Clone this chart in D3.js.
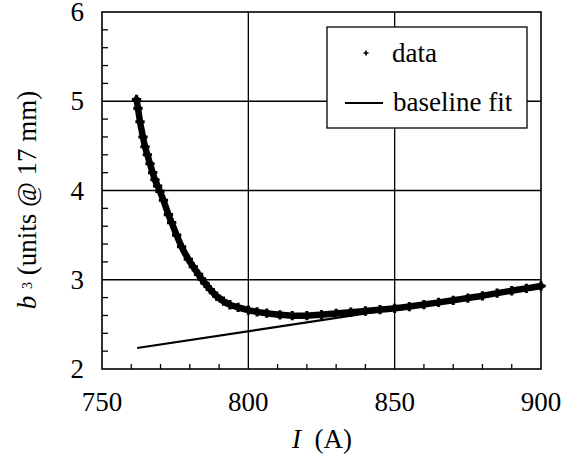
<!DOCTYPE html>
<html>
<head>
<meta charset="utf-8">
<script src="https://cdn.jsdelivr.net/npm/d3@7"></script>
</head>
<body style="margin:0">
<svg id="chart" width="577" height="460"></svg>
<script>
// measured current (A)
const currentI = [761.8, 762.3, 763, 764, 764.7, 765.5, 766.4, 767.3, 768.1, 769, 769.8,
  771, 772.7, 773.8, 775.5, 777.2, 779.5, 781.2, 783, 784, 785.2, 787, 789.2, 791.5,
  793.7, 796.5, 800, 803, 806.3, 810.8, 815, 820, 825, 830, 835, 840, 845, 850, 855,
  860, 865, 870, 875, 880, 885, 890, 895, 900]
// b3 values
const b3Values = [5.02, 4.92, 4.77, 4.60, 4.49, 4.40, 4.30, 4.20, 4.12, 4.05, 3.99,
  3.89, 3.73, 3.64, 3.50, 3.37, 3.23, 3.145, 3.06, 3.01, 2.96, 2.89, 2.815, 2.76,
  2.72, 2.69, 2.66, 2.64, 2.625, 2.607, 2.597, 2.598, 2.608, 2.622, 2.637, 2.65, 2.665, 2.68, 2.70,
  2.722, 2.746, 2.77, 2.795, 2.82, 2.85, 2.877, 2.903, 2.93]
// baseline fit end points
const fitI = [762, 900]
const fitB3 = [2.235, 2.92]

const xTicks = [750, 800, 850, 900]
const yTicks = [2, 3, 4, 5, 6]

const margin = { left: 102, top: 12, right: 36, bottom: 91 }
const width = 577, height = 460
const labelStyle = 'font-family: "Times New Roman", "Liberation Serif", Tinos, Times; font-size: 27px'

const svg = d3.select('#chart')

const x = d3.scaleLinear().domain([750, 900]).range([margin.left, width - margin.right])
const y = d3.scaleLinear().domain([2, 6]).range([height - margin.bottom, margin.top])

const plot = svg.append('g')

// grid lines
plot.selectAll('line.vgrid')
  .data(xTicks.slice(1, -1))
  .enter().append('line')
  .attr('x1', d => x(d)).attr('x2', d => x(d))
  .attr('y1', y(2)).attr('y2', y(6))
  .attr('stroke', '#000').attr('stroke-width', 1.3)

plot.selectAll('line.hgrid')
  .data(yTicks.slice(1, -1))
  .enter().append('line')
  .attr('x1', x(750)).attr('x2', x(900))
  .attr('y1', d => y(d)).attr('y2', d => y(d))
  .attr('stroke', '#000').attr('stroke-width', 1.3)

// minor ticks, pointing inward
const xMinor = d3.range(750, 901, 10).filter(d => d % 50 !== 0)
const yMinor = d3.range(2, 6.01, 0.2).filter(d => Math.abs(d - Math.round(d)) > 0.01)

plot.selectAll('line.xminor')
  .data(xMinor)
  .enter().append('line')
  .attr('x1', d => x(d)).attr('x2', d => x(d))
  .attr('y1', y(2)).attr('y2', y(2) - 5)
  .attr('stroke', '#000').attr('stroke-width', 1.3)

plot.selectAll('line.yminor')
  .data(yMinor)
  .enter().append('line')
  .attr('x1', x(750)).attr('x2', x(750) + 6)
  .attr('y1', d => y(d)).attr('y2', d => y(d))
  .attr('stroke', '#000').attr('stroke-width', 1.3)

// frame
plot.append('rect')
  .attr('x', x(750)).attr('y', y(6))
  .attr('width', x(900) - x(750)).attr('height', y(2) - y(6))
  .attr('fill', 'none').attr('stroke', '#000').attr('stroke-width', 1.6)

// tick labels
svg.selectAll('text.xtick')
  .data(xTicks)
  .enter().append('text')
  .attr('style', labelStyle)
  .attr('x', d => x(d)).attr('y', 411)
  .attr('text-anchor', 'middle')
  .text(d => d)

svg.selectAll('text.ytick')
  .data(yTicks)
  .enter().append('text')
  .attr('style', labelStyle)
  .attr('x', 84).attr('y', d => y(d) + 9)
  .attr('text-anchor', 'end')
  .text(d => d)

// axis titles
const xTitle = svg.append('text')
  .attr('style', labelStyle)
  .attr('x', 322).attr('y', 448)
  .attr('text-anchor', 'middle')
xTitle.append('tspan').attr('font-style', 'italic').text('I')
xTitle.append('tspan').text('\u2002(A)')

const yTitle = svg.append('text')
  .attr('style', labelStyle)
  .attr('transform', 'translate(36,200) rotate(-90)')
  .attr('text-anchor', 'middle')
yTitle.append('tspan').attr('font-style', 'italic').text('b ')
yTitle.append('tspan').style('font-size', '14px').attr('dy', -4).text('3')
yTitle.append('tspan').attr('dy', 4).text(' (units @ 17 mm)')

// data
const dataPts = currentI.map((d, i) => [d, b3Values[i]])

plot.append('path')
  .datum(dataPts)
  .attr('d', d3.line().x(d => x(d[0])).y(d => y(d[1])).curve(d3.curveCatmullRom))
  .attr('fill', 'none')
  .attr('stroke', '#000')
  .attr('stroke-width', 6.5)
  .attr('stroke-linecap', 'round')

const cross = d3.symbol().type(d3.symbolCross).size(48)
plot.selectAll('path.pt')
  .data(dataPts)
  .enter().append('path')
  .attr('d', cross)
  .attr('transform', d => `translate(${x(d[0])},${y(d[1])})`)
  .attr('fill', '#000')

// baseline fit
plot.append('line')
  .attr('x1', x(fitI[0])).attr('y1', y(fitB3[0]))
  .attr('x2', x(fitI[1])).attr('y2', y(fitB3[1]))
  .attr('stroke', '#000').attr('stroke-width', 2.2)

// legend
const legend = svg.append('g')
legend.append('rect')
  .attr('x', 327).attr('y', 27).attr('width', 200).attr('height', 101)
  .attr('fill', '#fff').attr('stroke', '#000').attr('stroke-width', 1.3)
legend.append('path')
  .attr('d', d3.symbol().type(d3.symbolCross).size(14))
  .attr('transform', 'translate(366,53)')
  .attr('fill', '#000')
legend.append('text')
  .attr('style', labelStyle)
  .attr('x', 392).attr('y', 62)
  .text('data')
legend.append('line')
  .attr('x1', 345).attr('x2', 383).attr('y1', 103).attr('y2', 103)
  .attr('stroke', '#000').attr('stroke-width', 2)
legend.append('text')
  .attr('style', labelStyle)
  .attr('x', 393).attr('y', 111)
  .text('baseline fit')
</script>
</body>
</html>
